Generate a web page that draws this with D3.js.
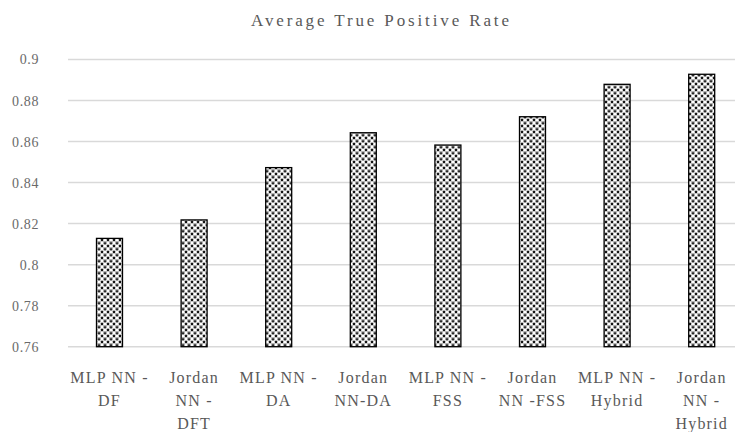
<!DOCTYPE html>
<html>
<head>
<meta charset="utf-8">
<script src="https://cdn.jsdelivr.net/npm/d3@7"></script>
<style>
  html, body { margin: 0; padding: 0; background: #fff; }
  svg { display: block; }
</style>
</head>
<body>
<script>
const title = "Average True Positive Rate";
const categories = ["MLP NN - DF", "Jordan NN - DFT", "MLP NN - DA", "Jordan NN-DA",
                    "MLP NN - FSS", "Jordan NN -FSS", "MLP NN - Hybrid", "Jordan NN - Hybrid"];
const labelLines = [["MLP NN -", "DF"], ["Jordan", "NN -", "DFT"], ["MLP NN -", "DA"], ["Jordan", "NN-DA"],
                    ["MLP NN -", "FSS"], ["Jordan", "NN -FSS"], ["MLP NN -", "Hybrid"], ["Jordan", "NN -", "Hybrid"]];
const values = [0.8128, 0.8218, 0.8473, 0.8643, 0.8583, 0.8721, 0.8879, 0.8928];
const yTicks = [0.76, 0.78, 0.80, 0.82, 0.84, 0.86, 0.88, 0.90];

const W = 735, H = 432;
const svg = d3.select("body").append("svg").attr("width", W).attr("height", H);

const defs = svg.append("defs");
const pat = defs.append("pattern").attr("id", "hatch").attr("patternUnits", "userSpaceOnUse")
  .attr("width", 6).attr("height", 6);
pat.append("rect").attr("width", 6).attr("height", 6).attr("fill", "#fff");
pat.append("path").attr("d", "M0,0 L6,6 M6,0 L0,6 M-1,5 L1,7 M5,-1 L7,1")
  .attr("stroke", "#111").attr("stroke-width", 1.25).attr("stroke-dasharray", "1.4,0.9");

const x = d3.scaleBand().domain(categories).range([67.2, 744]).padding(0);
const y = d3.scaleLinear().domain([0.76, 0.90]).range([346.7, 59.5]);
const barW = 26;

// gridlines
svg.append("g").selectAll("line").data(yTicks).join("line")
  .attr("x1", 68).attr("x2", W)
  .attr("y1", d => y(d)).attr("y2", d => y(d))
  .attr("stroke", "#d9d9d9").attr("stroke-width", 1.5);

// y axis labels
const yAxis = d3.axisLeft(y).tickValues(yTicks).tickFormat(d3.format("~g")).tickSize(0).tickPadding(0);
const ya = svg.append("g").attr("transform", "translate(39,0)").call(yAxis);
ya.select(".domain").remove();
ya.selectAll("text").attr("font-family", "Liberation Serif").attr("font-size", 14)
  .attr("fill", "#6a6a6a").attr("letter-spacing", 0.6);

// bars
svg.append("g").selectAll("rect").data(values).join("rect")
  .attr("x", (d, i) => x(categories[i]) + x.bandwidth() / 2 - barW / 2)
  .attr("width", barW)
  .attr("y", d => y(d))
  .attr("height", d => y(0.76) - y(d))
  .attr("fill", "url(#hatch)")
  .attr("stroke", "#000").attr("stroke-width", 1.3);

// x labels
const xl = svg.append("g");
labelLines.forEach((lines, i) => {
  const cx = x(categories[i]) + x.bandwidth() / 2;
  lines.forEach((ln, j) => {
    xl.append("text").attr("x", cx).attr("y", 383 + j * 23)
      .attr("text-anchor", "middle")
      .attr("font-family", "Liberation Serif").attr("font-size", 16)
      .attr("letter-spacing", 1.2)
      .attr("fill", "#595959").text(ln);
  });
});

// title
svg.append("text").attr("x", 380).attr("y", 26).attr("text-anchor", "middle")
  .attr("font-family", "Liberation Serif").attr("font-size", 17)
  .attr("fill", "#595959")
  .attr("textLength", 258).attr("lengthAdjust", "spacing")
  .text(title);
</script>
</body>
</html>
